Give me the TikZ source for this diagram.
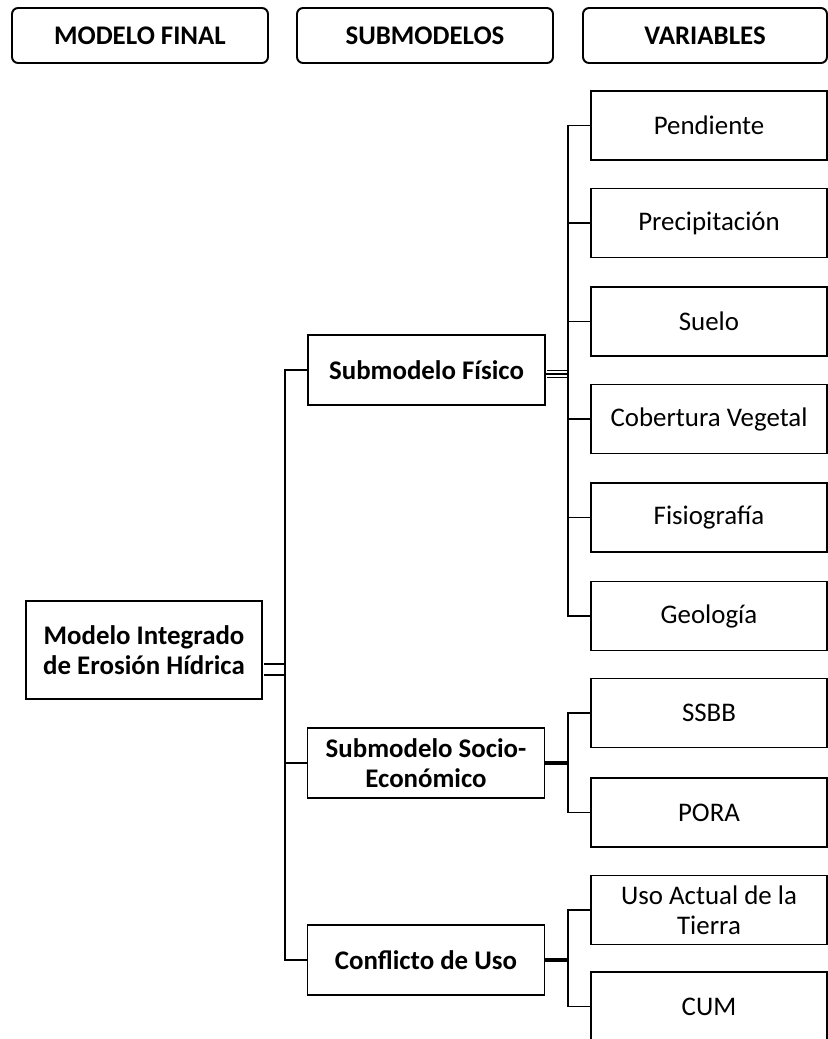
\documentclass[tikz,border=0pt]{standalone}
\usepackage{fontspec}
\setmainfont{Carlito}
\usepackage{tikz}

\begin{document}
\begin{tikzpicture}[x=0.02cm, y=-0.02cm, line width=1.1pt,
  font=\fontsize{15.3}{17}\selectfont,
  hdr/.style={draw, rounded corners=0.12cm, minimum height=1.1cm, font=\fontsize{15.3}{17}\selectfont\bfseries},
  submod/.style={draw, align=center, minimum width=4.74cm, minimum height=1.4cm, font=\fontsize{15.3}{17}\selectfont\bfseries},
  var/.style={draw, align=center, minimum width=4.72cm, minimum height=1.38cm}]
  \useasboundingbox (0,0) rectangle (828,1039);
  \node[hdr, minimum width=5.12cm] (hfinal) at (140,35.5) {MODELO FINAL};
  \node[hdr, minimum width=5.12cm] (hsub) at (425,35.5) {SUBMODELOS};
  \node[hdr, minimum width=4.88cm] (hvar) at (705,35.5) {VARIABLES};
  \node[submod, minimum width=4.72cm, minimum height=1.96cm] (modelo) at (144,650) {Modelo Integrado\\de Erosión Hídrica};
  \node[submod] (fisico) at (426.5,370) {Submodelo Físico};
  \node[submod] (socio) at (426,763) {Submodelo Socio-\\Económico};
  \node[submod] (conflicto) at (426,960) {Conflicto de Uso};
  \node[var] (pendiente) at (709,125.5) {Pendiente};
  \node[var] (precip) at (709,223) {Precipitación};
  \node[var] (suelo) at (709,321.5) {Suelo};
  \node[var] (cobertura) at (709,419) {Cobertura Vegetal};
  \node[var] (fisiog) at (709,517.5) {Fisiografía};
  \node[var] (geologia) at (709,616) {Geología};
  \node[var] (ssbb) at (709,713) {SSBB};
  \node[var] (pora) at (709,812.5) {PORA};
  \node[var] (usoactual) at (709,910) {Uso Actual de la\\Tierra};
  \node[var] (cum) at (709,1006.5) {CUM};
  \coordinate (trunk) at (285,0);
  \coordinate (fbus) at (568,0);
  \coordinate (mj) at ([yshift=-0.39cm]modelo.east);
  \coordinate (fj) at ([yshift=-0.08cm]fisico.east);
  \draw[double, double distance=0.18cm, shorten <=0.55pt] (mj) -- (trunk |- mj);
  \draw[line width=0.6pt, double, double distance=0.13cm, shorten <=0.55pt] (fj) -- (fbus |- fj);
  \draw[line width=0.6pt] (fj) -- (fbus |- fj);
  \draw (fisico.west) -| (trunk |- conflicto.west) -- (conflicto.west);
  \draw (socio.west) -- (trunk |- socio.west);
  \draw (pendiente.west) -| (fbus |- geologia.west) -- (geologia.west);
  \foreach \v in {precip, suelo, cobertura, fisiog}
    \draw (\v.west) -- (fbus |- \v.west);
  \draw[line width=2pt] (socio.east) -- (fbus |- socio.east);
  \draw (ssbb.west) -| (fbus |- pora.west) -- (pora.west);
  \draw[line width=2pt] (conflicto.east) -- (fbus |- conflicto.east);
  \draw (usoactual.west) -| (fbus |- cum.west) -- (cum.west);
\end{tikzpicture}
\end{document}
